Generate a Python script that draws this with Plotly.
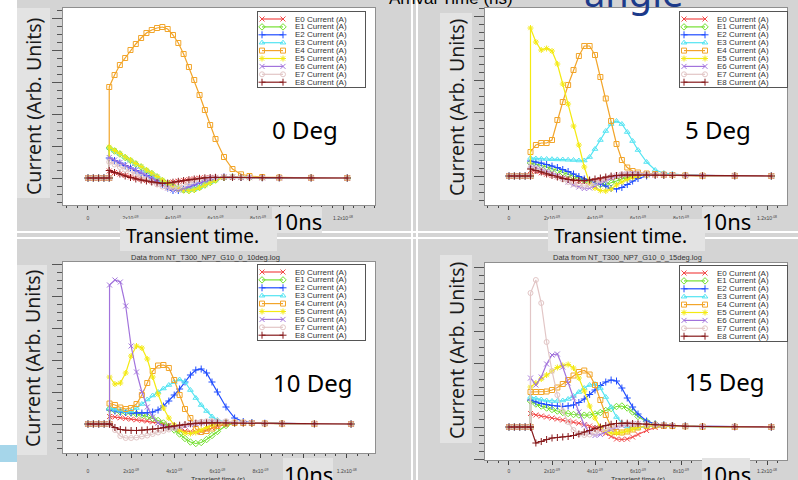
import plotly.graph_objects as go

W, H = 798, 480

# ---------------- data ----------------
T_NS = [0, 0.25, 0.5, 0.75, 1.0, 1.0, 1.25, 1.5, 1.75, 2.0, 2.25, 2.5, 2.75, 3.0,
        3.25, 3.5, 3.75, 4.0, 4.25, 4.5, 4.75, 5.0, 5.25, 5.5, 5.75, 6.0,
        6.4, 6.8, 7.2, 7.6, 8.2, 9.0, 10.5, 12.2]

SERIES_NAMES = ["E0 Current (A)", "E1 Current (A)", "E2 Current (A)", "E3 Current (A)",
                "E4 Current (A)", "E5 Current (A)", "E6 Current (A)", "E7 Current (A)",
                "E8 Current (A)"]
DEG_LABELS = ["0 Deg", "5 Deg", "10 Deg", "15 Deg"]
PANEL_TITLES = ["", "", "Data from NT_T300_NP7_G10_0_10deg.log",
                "Data from NT_T300_NP7_G10_0_15deg.log"]
XTICK_VALS = [0, 2, 4, 6, 8, 10, 12]
XTICK_TEXT = ["0", "2x10<sup>-09</sup>", "4x10<sup>-09</sup>", "6x10<sup>-09</sup>",
              "8x10<sup>-09</sup>", "1x10<sup>-08</sup>", "1.2x10<sup>-08</sup>"]

# 0 degrees
deg0_e0 = [0, 0, 0, 0, 0, 0.7, 0.55, 0.4, 0.25, 0.1, -0.05, -0.15, -0.25, -0.35, -0.42, -0.47, -0.45, -0.4,
           -0.32, -0.24, -0.16, -0.08, -0.02, 0.03, 0.05, 0.06, 0.06, 0.05, 0.04, 0.04, 0.03, 0.02, 0.01, 0]
deg0_e1 = [0, 0, 0, 0, 0, 3.0, 2.7, 2.4, 2.05, 1.75, 1.4, 1.1, 0.75, 0.45, 0.1, -0.25, -0.55, -0.85,
           -1.05, -1.2, -1.25, -1.15, -0.95, -0.7, -0.45, -0.2, 0.05, 0.1, 0.08, 0.05, 0.03, 0.02, 0.01, 0]
deg0_e2 = [0, 0, 0, 0, 0, 2.0, 1.75, 1.5, 1.25, 1.0, 0.75, 0.5, 0.25, 0.0, -0.3, -0.65, -1.0, -1.25,
           -1.25, -1.1, -0.9, -0.7, -0.5, -0.3, -0.12, 0.0, 0.1, 0.1, 0.07, 0.05, 0.03, 0.02, 0.01, 0]
deg0_e3 = [0, 0, 0, 0, 0, 3.05, 2.72, 2.42, 2.08, 1.78, 1.43, 1.13, 0.78, 0.48, 0.13, -0.22, -0.5, -0.82,
           -1.05, -1.18, -1.22, -1.12, -0.92, -0.68, -0.43, -0.18, 0.05, 0.11, 0.09, 0.06, 0.03, 0.02, 0.01, 0]
deg0_e4 = [0, 0, 0, 0, 0, 9.1, 10.3, 11.3, 12.0, 12.8, 13.4, 14.0, 14.5, 14.8, 15.0, 15.1, 14.9, 14.3,
           13.5, 12.4, 11.1, 9.8, 8.3, 6.8, 5.3, 3.9, 2.1, 0.9, 0.37, 0.2, 0.1, 0.05, 0.02, 0]
deg0_e5 = [0, 0, 0, 0, 0, 3.1, 2.75, 2.45, 2.1, 1.8, 1.45, 1.15, 0.8, 0.5, 0.15, -0.2, -0.5, -0.85,
           -1.08, -1.22, -1.27, -1.17, -0.97, -0.72, -0.47, -0.22, 0.04, 0.12, 0.1, 0.07, 0.04, 0.02, 0.01, 0]
deg0_e6 = [0, 0, 0, 0, 0, 2.05, 1.8, 1.55, 1.3, 1.05, 0.8, 0.55, 0.3, 0.0, -0.3, -0.65, -1.0, -1.2,
           -1.2, -1.05, -0.85, -0.65, -0.45, -0.25, -0.1, 0.02, 0.1, 0.1, 0.07, 0.05, 0.03, 0.02, 0.01, 0]
deg0_e7 = [0, 0, 0, 0, 0, 1.6, 1.35, 1.1, 0.85, 0.6, 0.35, 0.1, -0.15, -0.4, -0.65, -0.85, -1.0, -1.0,
           -0.9, -0.7, -0.5, -0.3, -0.15, -0.05, 0.03, 0.08, 0.1, 0.09, 0.07, 0.05, 0.03, 0.02, 0.01, 0]
deg0_e8 = [0, 0, 0, 0, 0, 0.75, 0.55, 0.4, 0.2, 0.05, -0.1, -0.2, -0.3, -0.4, -0.48, -0.53, -0.5, -0.42,
           -0.33, -0.25, -0.17, -0.1, -0.03, 0.02, 0.05, 0.07, 0.07, 0.06, 0.05, 0.04, 0.03, 0.02, 0.01, 0]

# 5 degrees
deg5_e0 = [0, 0, 0, 0, 0, 0.55, 0.45, 0.32, 0.18, 0.05, -0.08, -0.2, -0.32, -0.42, -0.5, -0.55, -0.52, -0.45,
           -0.35, -0.25, -0.15, -0.05, 0.02, 0.07, 0.1, 0.1, 0.1, 0.08, 0.07, 0.05, 0.04, 0.02, 0.01, 0]
deg5_e1 = [0, 0, 0, 0, 0, 1.3, 1.2, 1.05, 0.9, 0.75, 0.55, 0.35, 0.15, -0.05, -0.25, -0.45, -0.6, -0.75,
           -0.85, -0.85, -0.7, -0.5, -0.3, -0.15, 0.0, 0.08, 0.12, 0.12, 0.1, 0.08, 0.05, 0.03, 0.02, 0]
deg5_e2 = [0, 0, 0, 0, 0, 1.5, 1.4, 1.3, 1.15, 1.0, 0.85, 0.65, 0.45, 0.2, -0.05, -0.3, -0.5, -0.65,
           -0.8, -1.0, -1.25, -1.3, -1.15, -0.85, -0.5, -0.25, 0.0, 0.1, 0.12, 0.1, 0.06, 0.03, 0.02, 0]
deg5_e3 = [0, 0, 0, 0, 0, 1.8, 1.75, 1.72, 1.7, 1.68, 1.66, 1.65, 1.62, 1.6, 1.55, 1.55, 1.9, 2.7,
           3.6, 4.5, 5.2, 5.5, 5.2, 4.4, 3.5, 2.6, 1.4, 0.6, 0.3, 0.2, 0.1, 0.05, 0.02, 0]
deg5_e4 = [0, 0, 0, 0, 0, 2.4, 3.1, 3.3, 3.3, 3.6, 5.6, 7.4, 9.1, 10.6, 12.0, 13.0, 13.0, 12.1,
           9.9, 7.75, 5.5, 3.2, 1.6, 0.85, 0.5, 0.35, 0.25, 0.2, 0.15, 0.1, 0.06, 0.03, 0.02, 0]
deg5_e5 = [0, 0, 0, 0, 0, 14.8, 13.4, 12.6, 12.75, 12.5, 11.2, 9.2, 7.2, 5.0, 3.1, 0.9, -0.7, -1.2,
           -1.45, -1.5, -1.3, -0.9, -0.6, -0.35, -0.15, 0.0, 0.1, 0.12, 0.1, 0.08, 0.05, 0.03, 0.02, 0]
deg5_e6 = [0, 0, 0, 0, 0, 1.0, 0.85, 0.7, 0.5, 0.3, 0.05, -0.25, -0.6, -0.9, -1.1, -1.25, -1.2, -1.0,
           -0.7, -0.45, -0.2, 0.0, 0.15, 0.2, 0.25, 0.25, 0.2, 0.15, 0.12, 0.1, 0.06, 0.03, 0.02, 0]
deg5_e7 = [0, 0, 0, 0, 0, 0.85, 0.7, 0.55, 0.35, 0.15, -0.1, -0.35, -0.6, -0.8, -0.95, -1.0, -0.9, -0.7,
           -0.45, -0.25, -0.05, 0.1, 0.18, 0.22, 0.22, 0.2, 0.17, 0.14, 0.11, 0.09, 0.06, 0.03, 0.02, 0]
deg5_e8 = [0, 0, 0, 0, 0, 0.7, 0.55, 0.4, 0.2, 0.05, -0.1, -0.25, -0.35, -0.42, -0.45, -0.45, -0.4, -0.3,
           -0.2, -0.1, 0.0, 0.05, 0.08, 0.1, 0.1, 0.1, 0.1, 0.08, 0.07, 0.05, 0.04, 0.02, 0.01, 0]

# 10 degrees
deg10_e0 = [0, 0, 0, 0, 0, 0.75, 0.7, 0.62, 0.55, 0.48, 0.42, 0.36, 0.3, 0.22, 0.12, 0.0, -0.15, -0.35,
            -0.55, -0.7, -0.78, -0.8, -0.75, -0.6, -0.4, -0.25, -0.05, 0.05, 0.06, 0.05, 0.04, 0.02, 0.01, 0]
deg10_e1 = [0, 0, 0, 0, 0, 1.5, 1.35, 1.2, 1.15, 1.1, 1.0, 0.9, 0.75, 0.55, 0.35, 0.1, -0.25, -0.6,
            -1.0, -1.45, -1.8, -1.95, -1.85, -1.55, -1.15, -0.75, -0.15, 0.1, 0.12, 0.1, 0.06, 0.04, 0.02, 0]
deg10_e2 = [0, 0, 0, 0, 0, 1.4, 1.3, 1.2, 1.15, 1.12, 1.1, 1.1, 1.12, 1.2, 1.4, 1.8, 2.3, 2.9,
            3.5, 4.2, 4.9, 5.4, 5.5, 5.1, 4.2, 3.2, 1.7, 0.6, 0.25, 0.15, 0.08, 0.04, 0.02, 0]
deg10_e3 = [0, 0, 0, 0, 0, 1.6, 1.45, 1.35, 1.25, 1.3, 1.6, 2.0, 2.45, 2.85, 3.2, 3.55, 3.9, 4.2,
            4.45, 4.2, 3.4, 2.6, 1.9, 1.3, 0.75, 0.4, 0.2, 0.15, 0.12, 0.1, 0.06, 0.04, 0.02, 0]
deg10_e4 = [0, 0, 0, 0, 0, 2.05, 1.9, 1.65, 1.5, 1.6, 2.0, 2.9, 4.1, 5.3, 5.85, 5.9, 5.6, 4.4,
            2.9, 1.5, 0.6, -0.5, -0.8, -0.7, -0.45, -0.2, 0.05, 0.12, 0.12, 0.1, 0.06, 0.04, 0.02, 0]
deg10_e5 = [0, 0, 0, 0, 0, 4.7, 4.0, 4.1, 5.1, 6.8, 7.8, 7.6, 6.5, 4.7, 3.0, 1.6, 0.6, -0.1,
            -0.6, -0.9, -0.95, -0.85, -0.6, -0.35, -0.1, 0.05, 0.15, 0.15, 0.12, 0.1, 0.06, 0.04, 0.02, 0]
deg10_e6 = [0, 0, 0, 0, 0, 13.9, 14.4, 14.2, 11.8, 7.8, 5.2, 3.2, 1.7, 0.7, 0.1, -0.25, -0.4, -0.4,
            -0.3, -0.2, -0.05, 0.05, 0.12, 0.18, 0.2, 0.2, 0.18, 0.15, 0.12, 0.1, 0.06, 0.04, 0.02, 0]
deg10_e7 = [0, 0, 0, 0, 0, 0.0, -0.6, -1.2, -1.4, -1.4, -1.35, -1.25, -1.15, -1.0, -0.85, -0.7, -0.55, -0.4,
            -0.25, -0.1, 0.05, 0.15, 0.22, 0.28, 0.3, 0.3, 0.28, 0.22, 0.17, 0.13, 0.08, 0.05, 0.02, 0]
deg10_e8 = [0, 0, 0, 0, 0, 0.0, -0.35, -0.55, -0.62, -0.65, -0.65, -0.62, -0.58, -0.52, -0.45, -0.37, -0.28, -0.2,
            -0.12, -0.05, 0.02, 0.07, 0.1, 0.12, 0.12, 0.12, 0.1, 0.09, 0.08, 0.06, 0.04, 0.03, 0.01, 0]

# 15 degrees
deg15_e0 = [0, 0, 0, 0, 0, 1.35, 1.2, 1.1, 1.0, 0.9, 0.8, 0.7, 0.6, 0.5, 0.38, 0.25, 0.1, -0.1,
            -0.35, -0.65, -0.95, -1.2, -1.25, -1.2, -1.0, -0.75, -0.35, -0.05, 0.05, 0.05, 0.04, 0.02, 0.01, 0]
deg15_e1 = [0, 0, 0, 0, 0, 2.6, 2.3, 2.1, 1.9, 1.75, 1.6, 1.45, 1.35, 1.25, 1.2, 1.18, 1.2, 1.3,
            1.45, 1.65, 1.85, 2.05, 2.1, 1.9, 1.5, 1.05, 0.55, 0.3, 0.2, 0.15, 0.1, 0.05, 0.03, 0]
deg15_e2 = [0, 0, 0, 0, 0, 2.7, 2.5, 2.35, 2.25, 2.15, 2.1, 2.05, 2.1, 2.2, 2.45, 2.8, 3.25, 3.7,
            4.15, 4.5, 4.7, 4.6, 3.9, 2.9, 2.0, 1.3, 0.6, 0.3, 0.2, 0.15, 0.1, 0.05, 0.03, 0]
deg15_e3 = [0, 0, 0, 0, 0, 3.0, 2.85, 2.75, 2.65, 2.6, 2.6, 2.65, 2.8, 3.1, 3.5, 3.9, 4.2, 4.3,
            3.9, 3.0, 2.0, 1.0, 0.4, 0.05, -0.1, -0.1, 0.05, 0.1, 0.1, 0.08, 0.05, 0.03, 0.02, 0]
deg15_e4 = [0, 0, 0, 0, 0, 3.5, 3.5, 3.5, 3.55, 3.7, 3.95, 4.3, 4.7, 5.15, 5.5, 5.65, 5.25, 4.2,
            2.7, 1.2, 0.0, -0.5, -0.55, -0.45, -0.25, -0.05, 0.1, 0.15, 0.13, 0.1, 0.07, 0.04, 0.02, 0]
deg15_e5 = [0, 0, 0, 0, 0, 4.0, 4.4, 4.8, 5.2, 5.6, 5.95, 6.15, 6.25, 5.9, 4.9, 3.6, 2.1, 0.9,
            0.0, -0.45, -0.6, -0.62, -0.55, -0.4, -0.2, -0.05, 0.1, 0.15, 0.13, 0.1, 0.07, 0.04, 0.02, 0]
deg15_e6 = [0, 0, 0, 0, 0, 4.9, 4.2, 5.0, 6.3, 7.2, 7.3, 6.0, 4.4, 2.9, 1.5, 0.2, -0.6, -0.85,
            -0.75, -0.5, -0.25, 0.0, 0.15, 0.25, 0.3, 0.3, 0.28, 0.25, 0.2, 0.15, 0.1, 0.06, 0.03, 0]
deg15_e7 = [0, 0, 0, 0, 0, 13.4, 14.7, 12.4, 8.5, 5.6, 3.2, 1.6, 0.5, -0.3, -0.7, -0.8, -0.75, -0.6,
            -0.4, -0.2, 0.0, 0.15, 0.25, 0.3, 0.3, 0.3, 0.28, 0.25, 0.2, 0.15, 0.1, 0.06, 0.03, 0]
deg15_e8 = [0, 0, 0, 0, 0, 0.0, -1.6, -1.45, -1.25, -1.1, -1.05, -1.0, -0.95, -0.85, -0.7, -0.5, -0.35, -0.15,
            0.0, 0.15, 0.28, 0.35, 0.38, 0.38, 0.35, 0.32, 0.28, 0.22, 0.17, 0.13, 0.08, 0.05, 0.02, 0]

PANEL_DATA = [
    [deg0_e0, deg0_e1, deg0_e2, deg0_e3, deg0_e4, deg0_e5, deg0_e6, deg0_e7, deg0_e8],
    [deg5_e0, deg5_e1, deg5_e2, deg5_e3, deg5_e4, deg5_e5, deg5_e6, deg5_e7, deg5_e8],
    [deg10_e0, deg10_e1, deg10_e2, deg10_e3, deg10_e4, deg10_e5, deg10_e6, deg10_e7, deg10_e8],
    [deg15_e0, deg15_e1, deg15_e2, deg15_e3, deg15_e4, deg15_e5, deg15_e6, deg15_e7, deg15_e8],
]
for panel in PANEL_DATA:
    for s in panel:
        assert len(s) == len(T_NS), len(s)

# ---------------- styles ----------------
COLORS = ["#f24a4a", "#74e030", "#1f4cff", "#52e4f2", "#f2a52a",
          "#f4ea12", "#a273dc", "#e2c6c6", "#86191b"]
SYMBOLS = ["x-thin", "diamond-open", "cross-thin", "triangle-up-open", "square-open",
           "asterisk", "x-thin", "circle-open", "cross-thin"]

PANEL_GRAY = "#d4d4d4"
BOX_GRAY = "#e3e3e3"
BIG_FONT = "Noto Sans"
SMALL_FONT = "Liberation Sans"

def fx(px):
    return px / W

def fy(py):
    return 1 - py / H

# pixel layout of each panel: plot box, x range, y range, legend box
PANELS = [
    dict(plot=(63, 8, 375, 205), xr=(-1.176, 13.506), yr=(-2.7, 17.0), leg=(258, 12, 365, 87), std=4),
    dict(plot=(485, 8, 787, 205), xr=(-1.116, 12.93), yr=(-2.9, 16.8), leg=(680, 12, 787, 87), std=4),
    dict(plot=(63, 262, 375, 453), xr=(-1.158, 13.31), yr=(-2.9, 16.2), leg=(258, 265, 365, 340), std=9),
    dict(plot=(485, 263, 787, 460), xr=(-1.116, 12.93), yr=(-3.3, 16.4), leg=(680, 266, 787, 341), std=2),
]

fig = go.Figure()
layout = dict(
    width=W, height=H, margin=dict(l=0, r=0, t=0, b=0, autoexpand=False),
    paper_bgcolor=PANEL_GRAY, plot_bgcolor="white", showlegend=False,
    font=dict(family=SMALL_FONT, color="#222"),
)

annotations = []
shapes = []

for k, p in enumerate(PANELS):
    n = k + 1
    s = "" if n == 1 else str(n)
    x0, y0, x1, y1 = p["plot"]
    layout["xaxis" + s] = dict(
        domain=[fx(x0), fx(x1)], range=list(p["xr"]), anchor="y" + s, automargin=False,
        showgrid=False, zeroline=False, showline=True, mirror=True,
        linecolor="#8f8f8f", linewidth=1,
        tickmode="array", tickvals=XTICK_VALS, ticktext=XTICK_TEXT,
        ticks="outside", ticklen=4, tickwidth=1, tickcolor="#444",
        tickfont=dict(size=5, color="#444", family=SMALL_FONT), ticklabelstandoff=p["std"],
        minor=dict(tickmode="linear", tick0=0, dtick=0.5, ticks="outside", ticklen=2,
                   tickcolor="#444", showgrid=False),
        fixedrange=True,
    )
    layout["yaxis" + s] = dict(
        domain=[fy(y1), fy(y0)], range=list(p["yr"]), anchor="x" + s, automargin=False,
        showgrid=False, zeroline=False, showline=True, mirror=True,
        linecolor="#8f8f8f", linewidth=1, showticklabels=False,
        tickmode="linear", tick0=0, dtick=3.2, ticks="outside", ticklen=10,
        tickwidth=1, tickcolor="#555",
        minor=dict(tickmode="linear", tick0=0, dtick=0.8, ticks="outside", ticklen=5,
                   tickcolor="#555", showgrid=False),
        fixedrange=True,
    )
    for i, vals in enumerate(PANEL_DATA[k]):
        fig.add_trace(go.Scatter(
            x=T_NS, y=vals, mode="lines+markers", name=SERIES_NAMES[i],
            xaxis="x" + s, yaxis="y" + s,
            line=dict(color=COLORS[i], width=1.2),
            marker=dict(symbol=SYMBOLS[i], size=5, color=COLORS[i],
                        line=dict(color=COLORS[i], width=1)),
            hoverinfo="skip",
        ))

    # legend drawn as an inset subplot
    m = n + 4
    lx0, ly0, lx1, ly1 = p["leg"]
    lw, lh = lx1 - lx0, ly1 - ly0
    layout["xaxis%d" % m] = dict(domain=[fx(lx0), fx(lx1)], range=[0, lw], anchor="y%d" % m,
                                 automargin=False,
                                 showgrid=False, zeroline=False, showticklabels=False, ticks="",
                                 showline=True, mirror=True, linecolor="#555", linewidth=1,
                                 fixedrange=True)
    layout["yaxis%d" % m] = dict(domain=[fy(ly1), fy(ly0)], range=[lh, 0], anchor="x%d" % m,
                                 automargin=False,
                                 showgrid=False, zeroline=False, showticklabels=False, ticks="",
                                 showline=True, mirror=True, linecolor="#555", linewidth=1,
                                 fixedrange=True)
    for i, name in enumerate(SERIES_NAMES):
        row = 7 + 7.9 * i
        fig.add_trace(go.Scatter(
            x=[4, 25], y=[row, row], mode="lines+markers",
            xaxis="x%d" % m, yaxis="y%d" % m,
            line=dict(color=COLORS[i], width=1.2),
            marker=dict(symbol=SYMBOLS[i], size=5, color=COLORS[i],
                        line=dict(color=COLORS[i], width=1)),
            hoverinfo="skip",
        ))
        annotations.append(dict(text=name, x=35, y=row, xref="x%d" % m, yref="y%d" % m,
                                xanchor="left", yanchor="middle", showarrow=False,
                                font=dict(size=8, color="#333", family=SMALL_FONT)))

# ---------------- slide decorations ----------------
def rect(px0, py0, px1, py1, color):
    shapes.append(dict(type="rect", xref="paper", yref="paper",
                       x0=fx(px0), x1=fx(px1), y0=fy(py1), y1=fy(py0),
                       fillcolor=color, line=dict(width=0), layer="above"))

rect(0, 0, 17, 480, "white")
rect(0, 445, 17, 462, "#a6d6ea")
rect(411, 0, 413, 480, "white")
rect(416, 0, 418, 480, "white")
rect(17, 231, 798, 233, "white")
rect(17, 237, 798, 239, "white")
# y-title boxes
rect(17, 8, 50, 198, BOX_GRAY)
rect(440, 13, 472, 200, BOX_GRAY)
rect(17, 265, 47, 455, BOX_GRAY)
rect(440, 255, 472, 443, BOX_GRAY)
# "10ns" boxes
rect(272, 207, 322, 233, BOX_GRAY)
rect(702, 207, 750, 233, BOX_GRAY)
rect(283, 458, 333, 480, BOX_GRAY)
rect(702, 458, 750, 480, BOX_GRAY)
# "Transient time." boxes
rect(120, 219, 277, 251, BOX_GRAY)
rect(548, 219, 705, 251, BOX_GRAY)

def note(text, px, py, size, family=BIG_FONT, color="black", xanchor="center", angle=0):
    annotations.append(dict(text=text, x=fx(px), y=fy(py), xref="paper", yref="paper",
                            xanchor=xanchor, yanchor="middle", showarrow=False,
                            textangle=angle, font=dict(size=size, family=family, color=color)))

for lbl, (px, py) in zip(DEG_LABELS, [(305, 130), (718, 130), (313, 382), (725, 381)]):
    note(lbl, px, py, 24)
for (px, py) in [(297, 221), (726, 221), (308, 474), (726, 474)]:
    note("10ns", px, py, 22)
note("Transient time.", 124, 236, 19, xanchor="left")
note("Transient time.", 552, 236, 19, xanchor="left")
for (px, py) in [(33, 106), (456, 107), (32, 358), (456, 350)]:
    note("Current (Arb. Units)", px, py, 19.5, color="#1a1a1a", angle=-90)
note(PANEL_TITLES[2], 205, 257, 7.5, family=SMALL_FONT, color="#333")
note(PANEL_TITLES[3], 627, 257, 7.5, family=SMALL_FONT, color="#333")
note("Transient time (s)", 218, 480, 7, family=SMALL_FONT, color="#333")
note("Transient time (s)", 638, 480, 7, family=SMALL_FONT, color="#333")
note("Arrival Time (ns)", 451, -1, 17, family=SMALL_FONT, color="black")
note("angle", 633, -8, 38, color="#1c3a8a")

layout["annotations"] = annotations
layout["shapes"] = shapes
fig.update_layout(**layout)
fig.write_html(
    "out.html",
    config={"displayModeBar": False, "staticPlot": True},
    post_script="document.documentElement.style.margin='0';document.body.style.margin='0';"
                "document.body.style.overflow='hidden';",
)
